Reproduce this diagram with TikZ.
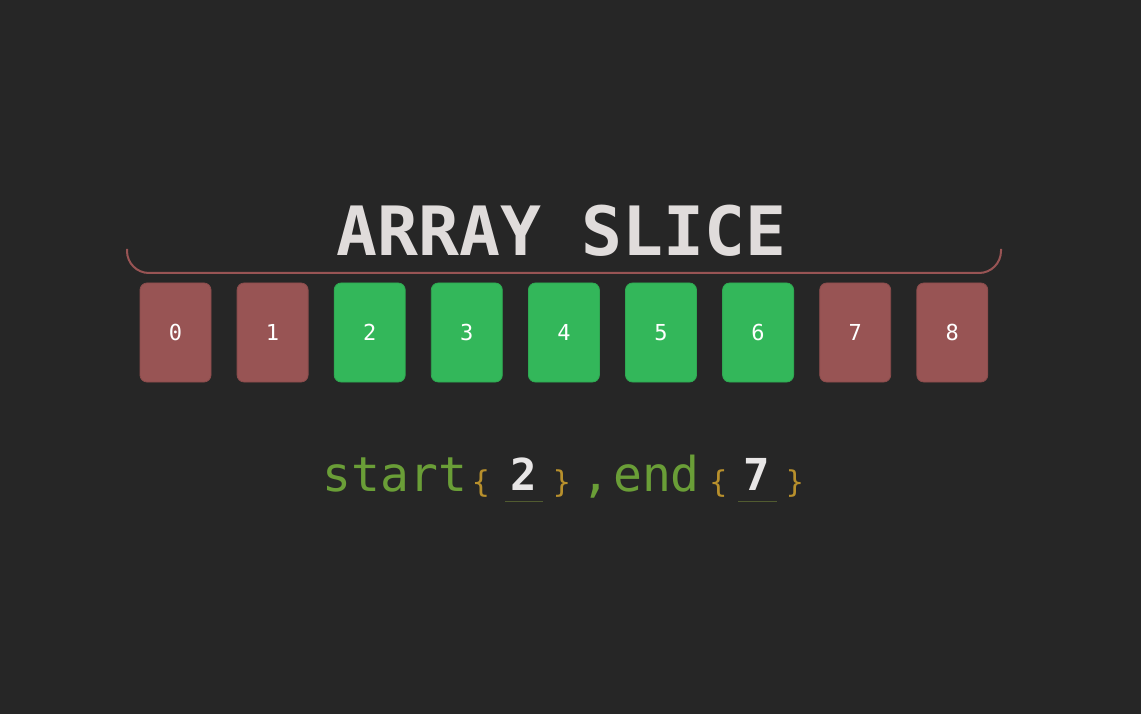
\documentclass[tikz,border=0pt]{standalone}
\usepackage{fontspec}
\setmonofont{DejaVu Sans Mono}
\usepackage{xcolor}
\usepackage{tikz}
\usetikzlibrary{positioning}
\definecolor{bg}{HTML}{262626}
\definecolor{cutred}{HTML}{985454}
\definecolor{cutrededge}{HTML}{8A4C4C}
\definecolor{keepgreen}{HTML}{33B75A}
\definecolor{keepgreenedge}{HTML}{2FA852}
\definecolor{titlegray}{HTML}{E0DCDB}
\definecolor{kw}{HTML}{6A9E37}
\definecolor{bracegold}{HTML}{B8902C}
\definecolor{num}{HTML}{E8E6E6}
\definecolor{uline}{HTML}{515B30}
\newcommand\sz[1]{\fontsize{#1}{#1}\selectfont}

\begin{document}
\begin{tikzpicture}[x=1pt,y=-1pt,
    cell/.style={rounded corners=7pt,minimum width=71pt,minimum height=99pt,
      inner sep=0pt,text=white,font=\ttfamily\sz{22}},
    outcell/.style={cell,fill=cutred,draw=cutrededge,line width=0.8pt},
    incell/.style={cell,fill=keepgreen,draw=keepgreenedge,line width=0.8pt},
    code/.style={inner sep=0pt,font=\ttfamily\sz{48},text=kw},
    bracetxt/.style={inner sep=0pt,font=\ttfamily\sz{30},text=bracegold},
    arg/.style={inner sep=0pt,font=\ttfamily\bfseries\sz{44},text=num}]
    \fill[bg] (0,0) rectangle (1141,714);
    \useasboundingbox (0,0) rectangle (1141,714);

    \node[anchor=base,inner sep=0pt,text=titlegray,font=\ttfamily\bfseries\sz{68}]
      (head) at (561.5,256) {ARRAY SLICE};

    \coordinate (bl) at (127,249);
    \coordinate (br) at (1001,249);
    \draw[cutred,line width=2pt,rounded corners=22pt]
      (bl) -- (127,273) -- (1001,273) -- (br);

    \path
    (175.5,332.5) node[outcell] (c0) {0}
    (272.6,332.5) node[outcell] (c1) {1}
    (369.7,332.5) node[incell] (c2) {2}
    (466.8,332.5) node[incell] (c3) {3}
    (563.9,332.5) node[incell] (c4) {4}
    (661.0,332.5) node[incell] (c5) {5}
    (758.1,332.5) node[incell] (c6) {6}
    (855.2,332.5) node[outcell] (c7) {7}
    (952.3,332.5) node[outcell] (c8) {8}
    ;

    \path
    (395,491) node[code,anchor=base] (start) {start}
    (481,483.5) node[bracetxt] (sopen) {\{}
    (523.5,490) node[arg,anchor=base] (sval) {2}
    (562,483.5) node[bracetxt] (sclose) {\}}
    (595.5,491) node[code,anchor=base] (comma) {,}
    (656.5,491) node[code,anchor=base] (end) {end}
    (718.5,483.5) node[bracetxt] (eopen) {\{}
    (756.5,490) node[arg,anchor=base] (eval) {7}
    (795,483.5) node[bracetxt] (eclose) {\}}
    ;
    \draw[uline,line width=1pt] (505,501) -- (543,501);
    \draw[uline,line width=1pt] (738,501) -- (777,501);
  \end{tikzpicture}
\end{document}
